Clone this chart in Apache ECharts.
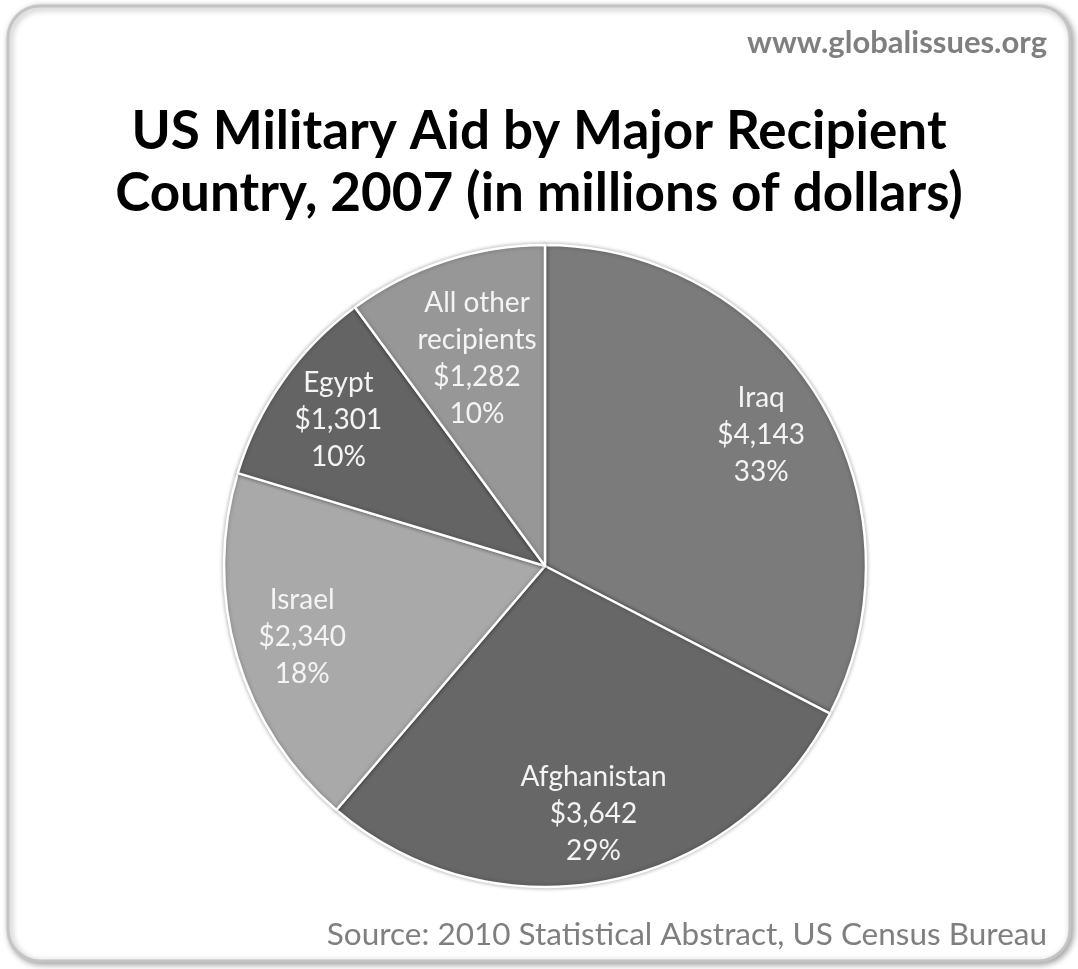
<!DOCTYPE html>
<html>
<head>
<meta charset="utf-8">
<title>US Military Aid</title>
<script src="https://cdn.jsdelivr.net/npm/echarts@6/dist/echarts.min.js"></script>
<style>
  html, body { margin: 0; padding: 0; background: #fff; }
  #main { width: 1078px; height: 969px; }
</style>
</head>
<body>
<div id="main"></div>
<script type="text/javascript">
// data (millions of dollars)
var countries = ['Iraq', 'Afghanistan', 'Israel', 'Egypt', 'All other recipients'];
var labelNames = ['Iraq', 'Afghanistan', 'Israel', 'Egypt', 'All other\nrecipients'];
var aid = [4143, 3642, 2340, 1301, 1282];
var sliceColors = ['#7b7b7b', '#676767', '#a9a9a9', '#646464', '#979797'];

var total = aid.reduce(function (a, b) { return a + b; }, 0);
var pieData = countries.map(function (name, i) {
    return { name: name, value: aid[i], itemStyle: { color: sliceColors[i] } };
});
var lastIndex = countries.length - 1;

var labelStyle = {
    show: true,
    position: 'inside',
    color: '#f4f4f4',
    fontFamily: 'Lato',
    fontSize: 28,
    lineHeight: 37,
    align: 'center',
    formatter: function (p) {
        return labelNames[p.dataIndex] + '\n$' + p.value.toLocaleString('en-US') + '\n' + Math.round(p.value / total * 100) + '%';
    }
};

// transparent copy of the pie whose only job is to carry labels
function labelRing(outer, showIndex) {
    return {
        type: 'pie',
        center: [545, 566],
        radius: [0, outer],
        startAngle: 90,
        clockwise: true,
        silent: true,
        avoidLabelOverlap: false,
        minShowLabelAngle: 0,
        itemStyle: { color: 'transparent' },
        labelLine: { show: false },
        label: labelStyle,
        data: pieData.map(function (d, i) {
            return { name: d.name, value: d.value, label: { show: showIndex(i) } };
        })
    };
}

var myChart = echarts.init(document.getElementById('main'));
var option = {
    backgroundColor: '#fff',
    animation: false,
    title: [
        {
            text: 'US Military Aid by Major Recipient\nCountry, 2007 (in millions of dollars)',
            left: 'center',
            top: 96,
            textStyle: { fontFamily: 'Lato', fontWeight: 'bold', fontSize: 53, lineHeight: 62, color: '#000' }
        },
        {
            text: 'www.globalissues.org',
            right: 26,
            top: 22,
            textStyle: { fontFamily: 'Lato', fontWeight: 'bold', fontSize: 31, color: '#7f7f7f' }
        },
        {
            text: 'Source: 2010 Statistical Abstract, US Census Bureau',
            right: 26,
            top: 914,
            textStyle: { fontFamily: 'Lato', fontWeight: 'normal', fontSize: 31.5, color: '#7f7f7f' }
        }
    ],
    graphic: [{
        type: 'rect',
        z: -10,
        shape: { x: 8, y: 6, width: 1062, height: 955, r: 32 },
        style: {
            fill: '#fff', stroke: '#c4c4c4', lineWidth: 3,
            shadowBlur: 6, shadowColor: 'rgba(0,0,0,0.35)', shadowOffsetX: 2, shadowOffsetY: 2
        }
    }],
    series: [
        {
            type: 'pie',
            center: [545, 566],
            radius: [0, 321],
            startAngle: 90,
            clockwise: true,
            silent: true,
            label: { show: false },
            labelLine: { show: false },
            itemStyle: {
                borderColor: '#fff', borderWidth: 2.5,
                shadowBlur: 4, shadowColor: 'rgba(0,0,0,0.3)'
            },
            data: pieData
        },
        labelRing(500, function (i) { return i !== lastIndex; }),
        labelRing(430, function (i) { return i === lastIndex; })
    ]
};
myChart.setOption(option);
</script>
</body>
</html>
